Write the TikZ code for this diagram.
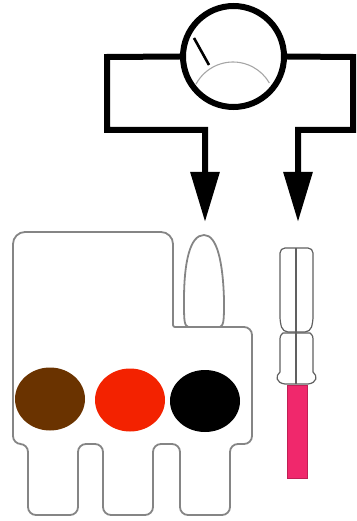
\documentclass[tikz,border=0pt]{standalone}
\usetikzlibrary{arrows.meta}
\definecolor{fusebrown}{HTML}{6A3300}
\definecolor{fusered}{HTML}{F32200}
\definecolor{leadpink}{HTML}{F0286C}
\definecolor{leadedge}{HTML}{C01F55}
\definecolor{outlinegray}{HTML}{858585}
\definecolor{probegray}{HTML}{606060}
\begin{document}
\begin{tikzpicture}[x=1pt,y=-1pt,
  wire/.style={line width=6pt, line join=miter, -{Triangle[length=50pt,width=28pt]}},
  meter/.style={circle, draw, line width=6pt, minimum size=101pt, inner sep=0pt},
  fuseline/.style={draw=outlinegray, line width=1.8pt},
  probeline/.style={draw=probegray, line width=1.2pt},
  scalearc/.style={draw=gray!70, line width=1.1pt}]
  \useasboundingbox (0,0) rectangle (356,521);

  % meter with needle and scale
  \node[meter] (meter) at (233.5,56.5) {};
  \draw[line width=2.6pt] (194,38) -- (209,65);
  \draw[scalearc] (233,104) ++(208:42) arc[start angle=208, end angle=330, radius=42];

  % lead routing corners and tip points
  \coordinate (la) at (107,57);
  \coordinate (lb) at (107,130);
  \coordinate (lc) at (205,130);
  \coordinate (tipA) at (205,222);
  \coordinate (ra) at (353,57);
  \coordinate (rb) at (353,130);
  \coordinate (rc) at (298,130);
  \coordinate (tipB) at (298,222);

  \draw[wire] (meter.west) -- (la) -- (lb) -- (lc) -- (tipA);
  \draw[wire] (meter.east) -- (ra) -- (rb) -- (rc) -- (tipB);

  % fuse body with three legs
  \draw[fuseline, rounded corners=8pt]
    (13,330) [rounded corners=12pt] -- (13,232) -- (173,232)
    [rounded corners=2pt] -- (173,327)
    [rounded corners=8pt] -- (252,327) -- (252,444)
    -- (230,444) -- (230,515) -- (180,515) -- (180,444)
    -- (153,444) -- (153,515) -- (103,515) -- (103,444)
    -- (78,444) -- (78,515) -- (28,515) -- (28,444)
    -- (13,444) -- cycle;

  % test blade on top of the step
  \draw[fuseline]
    (188,327) .. controls (184,325) and (184,320) .. (184,300)
    .. controls (184,262) and (190,235) .. (204,235)
    .. controls (217,235) and (223,262) .. (224,300)
    .. controls (224,320) and (224,325) .. (220,327);

  % colour bands
  \fill[fusebrown] (50,399) ellipse [x radius=35, y radius=31.5];
  \fill[fusered] (130,400) ellipse [x radius=35, y radius=31.5];
  \fill[black] (205,401) ellipse [x radius=35, y radius=31];

  % spare probe
  \draw[probeline, rounded corners=5pt]
    (283,332) -- (280,322) -- (280,248) -- (313,248) -- (313,322) -- (310,332) -- cycle;
  \draw[probeline]
    (283,333) .. controls (280,336) .. (280,342) -- (280,372)
    .. controls (275,376) and (276,383) .. (285,384) -- (308,384)
    .. controls (317,383) and (318,376) .. (313,372) -- (313,342)
    .. controls (313,336) .. (310,333) -- cycle;
  \draw[probeline] (296,248) -- (296,384);
  \filldraw[fill=leadpink, draw=leadedge, line width=0.8pt] (287,385) rectangle (307,478);
\end{tikzpicture}
\end{document}
